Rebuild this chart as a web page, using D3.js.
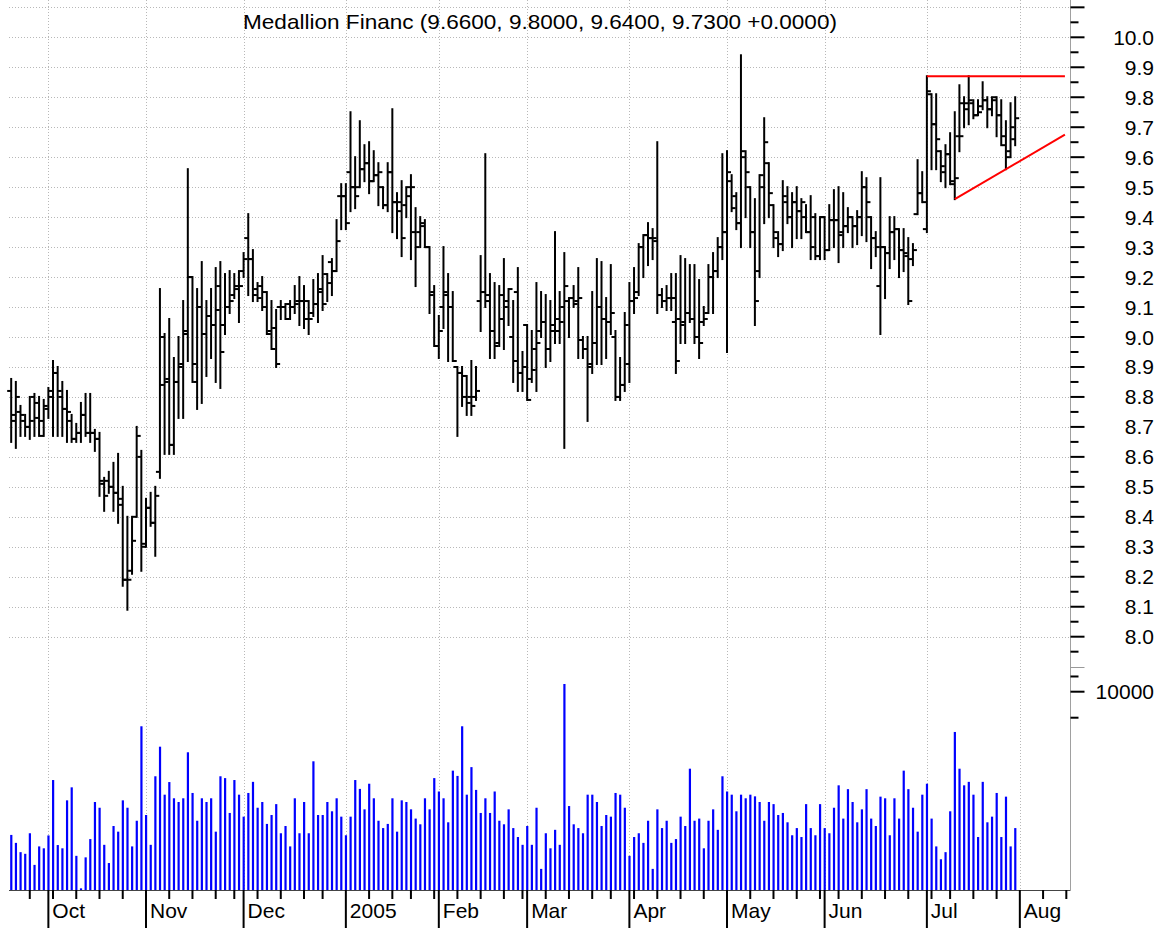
<!DOCTYPE html>
<html>
<head>
<meta charset="utf-8">
<script src="https://cdn.jsdelivr.net/npm/d3@7"></script>
<style>
  body { margin: 0; background: #fff; }
  svg { display: block; }
  text { font-family: "Liberation Sans", Arial, sans-serif; fill: #000; }
</style>
</head>
<body>
<svg id="chart" width="1168" height="928"></svg>
<script>
// daily bars, Sep 21 2004 .. Jul 29 2005 (trading days)
var opens = [8.82,8.74,8.75,8.72,8.70,8.80,8.73,8.67,8.76,8.80,8.88,8.80,8.76,8.72,8.66,8.68,8.74,8.68,8.68,8.66,
  8.51,8.52,8.50,8.48,8.44,8.19,8.22,8.40,8.60,8.30,8.43,8.38,8.55,9.00,8.86,8.64,8.85,8.91,9.02,9.20,
  8.85,9.10,9.01,9.07,9.04,9.17,9.04,9.10,9.14,9.17,9.22,9.33,9.26,9.16,9.17,9.10,9.02,9.03,9.10,9.10,
  9.11,9.10,9.12,9.12,9.06,9.08,9.11,9.16,9.21,9.25,9.22,9.47,9.47,9.55,9.50,9.50,9.56,9.58,9.52,9.54,
  9.50,9.44,9.55,9.45,9.45,9.44,9.50,9.35,9.35,9.37,9.30,9.15,8.97,9.10,9.14,9.10,8.90,8.88,8.87,8.80,
  8.80,9.12,9.15,9.12,9.02,8.98,9.06,9.12,9.00,9.15,8.88,9.04,8.86,8.96,9.02,9.05,8.96,9.02,9.06,9.10,
  9.12,9.13,9.12,8.99,8.96,8.91,8.98,9.10,9.06,9.05,9.00,8.80,8.84,8.91,9.12,9.15,9.30,9.34,9.33,9.32,
  9.14,9.12,9.13,9.05,9.06,9.05,9.08,9.06,9.00,9.05,9.08,9.20,9.22,9.30,9.35,9.52,9.47,9.38,9.60,9.50,
  9.35,9.22,9.50,9.58,9.44,9.33,9.31,9.45,9.40,9.45,9.42,9.40,9.35,9.40,9.27,9.40,9.29,9.39,9.39,9.35,
  9.37,9.40,9.37,9.40,9.50,9.40,9.33,9.17,9.30,9.28,9.35,9.36,9.29,9.27,9.26,9.41,9.48,9.36,9.81,9.71,
  9.62,9.55,9.61,9.52,9.67,9.78,9.76,9.78,9.74,9.77,9.79,9.76,9.80,9.74,9.64,9.62,9.66];
var highs = [8.86,8.85,8.77,8.74,8.80,8.81,8.80,8.79,8.83,8.92,8.90,8.85,8.82,8.74,8.71,8.78,8.81,8.81,8.69,8.68,
  8.53,8.55,8.58,8.61,8.50,8.40,8.40,8.70,8.62,8.46,8.48,8.50,9.16,9.01,9.06,8.93,9.00,9.12,9.56,9.20,
  9.16,9.25,9.12,9.16,9.23,9.25,9.21,9.22,9.21,9.22,9.28,9.41,9.29,9.18,9.20,9.15,9.12,9.09,9.12,9.11,
  9.12,9.17,9.20,9.17,9.12,9.19,9.21,9.27,9.21,9.26,9.39,9.51,9.51,9.75,9.60,9.72,9.64,9.65,9.62,9.58,
  9.50,9.58,9.76,9.48,9.52,9.50,9.54,9.43,9.40,9.39,9.30,9.17,9.07,9.30,9.21,9.15,8.90,8.90,8.87,8.92,
  8.90,9.27,9.61,9.21,9.18,9.17,9.26,9.16,9.12,9.23,8.95,9.04,9.02,9.18,9.15,9.14,9.12,9.35,9.15,9.28,
  9.13,9.17,9.23,9.00,9.00,9.15,9.26,9.25,9.13,9.24,9.02,8.93,9.08,9.18,9.23,9.31,9.34,9.38,9.36,9.65,
  9.16,9.17,9.21,9.21,9.27,9.26,9.24,9.24,9.19,9.10,9.24,9.28,9.33,9.61,9.62,9.54,9.48,9.94,9.62,9.50,
  9.46,9.54,9.73,9.58,9.44,9.35,9.52,9.50,9.48,9.50,9.46,9.44,9.47,9.41,9.40,9.40,9.44,9.49,9.50,9.48,
  9.43,9.40,9.42,9.55,9.53,9.40,9.35,9.53,9.30,9.40,9.40,9.36,9.36,9.33,9.31,9.59,9.55,9.87,9.81,9.81,
  9.62,9.64,9.68,9.75,9.84,9.80,9.87,9.79,9.79,9.85,9.80,9.80,9.80,9.79,9.72,9.78,9.80];
var lows = [8.65,8.63,8.67,8.67,8.66,8.67,8.67,8.67,8.73,8.67,8.67,8.67,8.65,8.65,8.65,8.65,8.67,8.65,8.62,8.47,
  8.42,8.48,8.42,8.38,8.17,8.09,8.21,8.40,8.22,8.30,8.37,8.27,8.53,8.61,8.61,8.61,8.73,8.73,8.92,8.85,
  8.76,8.78,8.87,8.93,8.85,8.83,9.01,9.08,9.13,9.05,9.20,9.14,9.12,9.12,9.09,9.01,8.96,8.90,9.06,9.06,
  9.06,9.08,9.04,9.03,9.01,9.07,9.05,9.09,9.12,9.14,9.22,9.36,9.36,9.42,9.43,9.50,9.52,9.48,9.52,9.44,
  9.43,9.42,9.35,9.33,9.27,9.40,9.26,9.17,9.30,9.30,9.08,8.97,8.93,9.03,8.92,8.92,8.67,8.77,8.74,8.74,
  8.79,9.02,9.10,8.93,8.93,8.97,8.96,9.04,8.85,8.82,8.82,8.79,8.85,8.82,9.00,8.90,8.92,8.98,8.98,8.63,
  9.00,9.10,8.93,8.93,8.72,8.88,8.91,8.91,8.93,9.01,8.79,8.79,8.82,8.85,9.08,9.14,9.20,9.24,9.26,9.08,
  9.10,9.09,9.09,8.88,8.98,8.98,9.05,8.98,8.93,9.04,9.08,9.08,9.20,9.26,8.95,9.42,9.36,9.30,9.40,9.30,
  9.04,9.20,9.38,9.40,9.30,9.27,9.29,9.38,9.30,9.33,9.33,9.35,9.26,9.26,9.26,9.26,9.29,9.30,9.25,9.30,
  9.35,9.30,9.31,9.34,9.32,9.23,9.27,9.01,9.13,9.23,9.26,9.20,9.22,9.11,9.24,9.41,9.45,9.35,9.56,9.56,
  9.52,9.50,9.51,9.46,9.62,9.70,9.71,9.73,9.74,9.76,9.70,9.74,9.67,9.64,9.56,9.60,9.64];
var closes = [8.72,8.80,8.74,8.70,8.72,8.78,8.72,8.77,8.82,8.88,8.82,8.76,8.75,8.66,8.68,8.74,8.68,8.68,8.66,8.52,
  8.47,8.50,8.48,8.46,8.19,8.19,8.32,8.67,8.31,8.43,8.38,8.47,8.84,8.85,8.64,8.85,8.90,9.01,9.20,8.91,
  9.10,9.01,9.07,9.04,9.09,8.95,9.10,9.12,9.16,9.17,9.26,9.26,9.14,9.13,9.15,9.01,8.96,8.91,9.10,9.06,
  9.10,9.11,9.12,9.12,9.06,9.11,9.15,9.11,9.18,9.22,9.32,9.47,9.38,9.50,9.47,9.56,9.58,9.52,9.54,9.55,
  9.44,9.55,9.45,9.42,9.33,9.47,9.50,9.30,9.38,9.30,9.14,8.97,9.02,9.15,9.10,8.92,8.88,8.80,8.78,8.77,
  8.82,9.15,9.14,9.02,8.97,9.14,9.10,9.16,8.92,8.88,8.90,8.79,8.89,8.98,9.05,8.96,9.04,9.02,9.05,9.17,
  9.13,9.11,9.13,8.96,8.90,8.98,9.10,9.06,9.05,9.08,8.80,8.84,9.04,9.12,9.13,9.30,9.34,9.33,9.33,9.14,
  9.12,9.13,9.13,8.92,9.04,9.08,9.06,9.00,8.98,9.06,9.20,9.22,9.30,9.35,9.55,9.43,9.38,9.62,9.55,9.35,
  9.12,9.54,9.65,9.48,9.35,9.31,9.47,9.40,9.45,9.42,9.45,9.35,9.30,9.27,9.40,9.29,9.39,9.39,9.34,9.37,
  9.40,9.37,9.40,9.50,9.45,9.33,9.30,9.30,9.28,9.35,9.36,9.29,9.28,9.12,9.29,9.48,9.45,9.82,9.71,9.66,
  9.57,9.61,9.51,9.53,9.67,9.78,9.79,9.74,9.75,9.79,9.76,9.79,9.74,9.67,9.60,9.70,9.73];
var volumes = [220,178,139,133,230,99,162,154,217,950,168,154,553,782,126,53,121,197,529,454,
  169,104,279,240,553,454,162,321,3980,374,169,1050,2310,643,900,584,529,584,1990,673,
  321,584,529,584,240,1050,1000,395,950,643,358,673,905,454,529,295,374,500,230,279,
  162,584,230,529,230,1565,374,374,529,413,584,358,218,358,950,750,435,861,584,321,
  264,295,584,240,553,529,435,340,292,584,435,1000,700,584,308,1220,1060,3980,643,1340,
  730,395,584,395,700,321,292,435,264,208,169,279,169,454,89,230,154,252,169,12280,
  475,292,264,230,643,643,529,279,374,358,673,643,454,126,208,230,178,321,89,435,
  264,321,178,197,358,279,1285,321,340,154,321,435,252,1050,700,643,413,643,584,643,
  615,529,321,529,500,374,395,308,218,264,208,500,264,218,500,264,230,454,825,340,
  745,529,308,435,745,340,279,610,584,218,584,340,1220,745,454,240,643,861,340,162,
  115,139,413,3420,1285,825,905,643,208,905,308,358,673,208,610,162,264];

var title = "Medallion Financ (9.6600, 9.8000, 9.6400, 9.7300 +0.0000)";
var monthNames = ["2005","Feb","Mar","Apr","May","Jun","Jul","Aug","Sep","Oct","Nov","Dec"];
var holidays = ["2004-11-25","2004-12-24","2005-01-17","2005-02-21","2005-03-25","2005-05-30","2005-07-04"];
var firstDay = "2004-09-21", lastDay = "2005-08-19";
var priceLabels = [8.0,8.1,8.2,8.3,8.4,8.5,8.6,8.7,8.8,8.9,9.0,9.1,9.2,9.3,9.4,9.5,9.6,9.7,9.8,9.9,10.0];
var priceGrid = [8.0,8.1,8.2,8.3,8.4,8.5,8.6,8.7,8.8,8.9,9.0,9.1,9.2,9.3,9.4,9.5,9.6,9.7,9.8,9.9,10.0,10.1];
var priceMinor = [7.95,8.05,8.15,8.25,8.35,8.45,8.55,8.65,8.75,8.85,8.95,9.05,9.15,9.25,9.35,9.45,9.55,9.65,9.75,9.85,9.95,10.05];
var volLabels = [10000];
var volMinor = [5000, 15000];
// red trend lines: [day index, price]
var trendLines = [
  [[197, 9.87], [226.7, 9.87]],
  [[203, 9.46], [226.7, 9.675]]
];

// trading calendar
var parse = d3.timeParse("%Y-%m-%d");
var fmt = d3.timeFormat("%Y-%m-%d");
var days = [];
d3.timeDay.range(parse(firstDay), d3.timeDay.offset(parse(lastDay), 1)).forEach(function(d) {
  var wd = d.getDay();
  if (wd == 0 || wd == 6) return;
  if (holidays.indexOf(fmt(d)) >= 0) return;
  days.push(d);
});

var left = 9, right = 1070.5, volBase = 890;
var svg = d3.select("#chart");

var x = d3.scaleLinear().domain([-0.47, 227.9]).range([left, right]);
var y = d3.scaleLinear().domain([8, 10]).range([636.7, 37.3]);
var yv = d3.scaleLog().domain([50.7, 10000]).range([volBase, 691.7]);

// month starts and week starts
var months = [], weeks = [];
days.forEach(function(d, i) {
  if (i == 0) return;
  var p = days[i - 1];
  if (d.getMonth() != p.getMonth()) months.push({i: i, name: monthNames[d.getMonth()]});
  else if (d3.timeMonday.floor(d) > p) weeks.push(i);
});

// grid
var grid = svg.append("g")
  .attr("stroke", "#b8b8b8")
  .attr("stroke-width", 1)
  .attr("stroke-dasharray", "1,2");
grid.selectAll(".h").data(priceGrid).enter().append("line")
  .attr("x1", left).attr("x2", right)
  .attr("y1", function(d) { return Math.round(y(d)) + 0.5; })
  .attr("y2", function(d) { return Math.round(y(d)) + 0.5; });
grid.selectAll(".v").data(months).enter().append("line")
  .attr("x1", function(d) { return Math.round(x(d.i)) + 0.5; })
  .attr("x2", function(d) { return Math.round(x(d.i)) + 0.5; })
  .attr("y1", 0).attr("y2", volBase);

// title
svg.append("text")
  .attr("x", 540).attr("y", 29)
  .attr("text-anchor", "middle")
  .attr("font-size", 21)
  .attr("textLength", 594)
  .attr("lengthAdjust", "spacingAndGlyphs")
  .text(title);

// volume bars
svg.append("g").selectAll("rect").data(volumes).enter().append("rect")
  .attr("x", function(d, i) { return x(i) - 1; })
  .attr("width", 2.2)
  .attr("y", function(d) { return yv(d); })
  .attr("height", function(d) { return volBase - yv(d); })
  .attr("fill", "#0000ff");

// price bars
var bars = svg.append("g").attr("stroke", "#000").attr("stroke-width", 2);
highs.forEach(function(h, i) {
  var bx = x(i);
  bars.append("line").attr("x1", bx).attr("x2", bx).attr("y1", y(h) - 1).attr("y2", y(lows[i]) + 1);
  bars.append("line").attr("x1", bx - 4).attr("x2", bx).attr("y1", y(opens[i])).attr("y2", y(opens[i]));
  bars.append("line").attr("x1", bx).attr("x2", bx + 4).attr("y1", y(closes[i])).attr("y2", y(closes[i]));
});

// trend lines
svg.append("g").selectAll("line").data(trendLines).enter().append("line")
  .attr("x1", function(d) { return x(d[0][0]); })
  .attr("y1", function(d) { return y(d[0][1]); })
  .attr("x2", function(d) { return x(d[1][0]); })
  .attr("y2", function(d) { return y(d[1][1]); })
  .attr("stroke", "#ff0000")
  .attr("stroke-width", 2);

// volume baseline
svg.append("line")
  .attr("x1", left).attr("x2", right)
  .attr("y1", volBase + 0.5).attr("y2", volBase + 0.5)
  .attr("stroke", "#444");

// right axis
svg.append("line")
  .attr("x1", right).attr("x2", right)
  .attr("y1", 0).attr("y2", volBase)
  .attr("stroke", "#a0a0a0");
var ax = svg.append("g").attr("stroke", "#000").attr("stroke-width", 2);
ax.selectAll(".maj").data(priceGrid).enter().append("line")
  .attr("x1", right).attr("x2", right + 14)
  .attr("y1", function(d) { return y(d); }).attr("y2", function(d) { return y(d); });
ax.selectAll(".min").data(priceMinor).enter().append("line")
  .attr("x1", right).attr("x2", right + 8)
  .attr("y1", function(d) { return y(d); }).attr("y2", function(d) { return y(d); });
ax.selectAll(".vmaj").data(volLabels).enter().append("line")
  .attr("x1", right).attr("x2", right + 14)
  .attr("y1", function(d) { return yv(d); }).attr("y2", function(d) { return yv(d); });
ax.selectAll(".vmin").data(volMinor).enter().append("line")
  .attr("x1", right).attr("x2", right + 8)
  .attr("y1", function(d) { return yv(d); }).attr("y2", function(d) { return yv(d); });
// panel separator
svg.append("line")
  .attr("x1", right).attr("x2", right + 14)
  .attr("y1", 667.5).attr("y2", 667.5)
  .attr("stroke", "#999");

svg.append("g").selectAll("text").data(priceLabels).enter().append("text")
  .attr("x", 1154).attr("y", function(d) { return y(d) + 7.5; })
  .attr("text-anchor", "end")
  .attr("font-size", 21)
  .text(function(d) { return d.toFixed(1); });
svg.append("g").selectAll("text").data(volLabels).enter().append("text")
  .attr("x", 1154).attr("y", function(d) { return yv(d) + 7.5; })
  .attr("text-anchor", "end")
  .attr("font-size", 21)
  .text(function(d) { return d; });

// date axis
var dx = svg.append("g").attr("stroke", "#000").attr("stroke-width", 2);
dx.selectAll(".wk").data(weeks).enter().append("line")
  .attr("x1", function(d) { return x(d); }).attr("x2", function(d) { return x(d); })
  .attr("y1", volBase).attr("y2", volBase + 9);
dx.selectAll(".mo").data(months).enter().append("line")
  .attr("x1", function(d) { return x(d.i); }).attr("x2", function(d) { return x(d.i); })
  .attr("y1", volBase).attr("y2", 928);
svg.append("g").selectAll("text").data(months).enter().append("text")
  .attr("x", function(d) { return x(d.i) + 4; })
  .attr("y", 918)
  .attr("font-size", 21)
  .text(function(d) { return d.name; });
</script>
</body>
</html>
